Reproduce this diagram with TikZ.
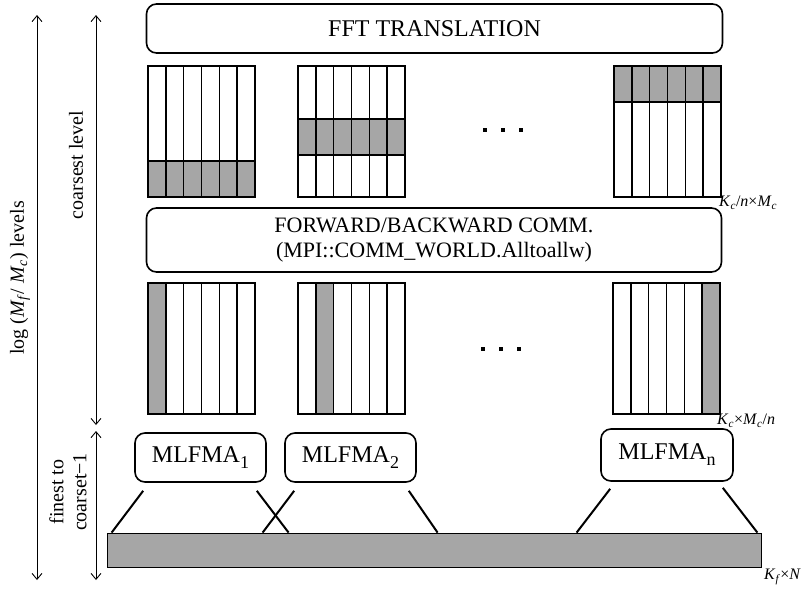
\documentclass[tikz,border=0pt]{standalone}
\usepackage{fontspec}
\setmainfont{Liberation Serif}
\usepackage{tikz}
\usetikzlibrary{arrows.meta,positioning,calc}
\definecolor{BandGray}{RGB}{166,166,166}
\newcommand{\idx}[1]{\textit{#1}}
\newcommand{\sub}[1]{\textsubscript{\textit{#1}}}
\newcommand{\rank}[1]{\raisebox{-6pt}{\fontsize{18}{18}\selectfont #1}}

\begin{document}
\begin{tikzpicture}[x=1pt, y=-1pt,
    stage/.style={draw, line width=1.6pt, rounded corners=10pt, inner sep=0pt, align=center, font=\fontsize{22}{25}\selectfont},
    solver/.style={stage, minimum width=131pt, minimum height=49pt, font=\fontsize{24}{26}\selectfont},
    cell/.style={draw, line width=1.5pt},
    span/.style={{Straight Barb[length=6pt,width=10pt]}-{Straight Barb[length=6pt,width=10pt]}, line width=0.9pt},
    side/.style={rotate=90, align=center, font=\fontsize{20}{23}\selectfont},
    dim/.style={anchor=west, inner sep=0pt, font=\fontsize{16}{18}\selectfont},
    leg/.style={line width=2pt}]
  \useasboundingbox (0,0) rectangle (809,590);

  % stages across all processes
  \node[stage, minimum width=576pt, minimum height=49pt, font=\fontsize{24}{26}\selectfont] (fft) at (434.5,28.5) {FFT TRANSLATION};
  \node[stage, minimum width=575pt, minimum height=64pt] (comm) at (434,240) {FORWARD/BACKWARD COMM.\\(MPI::COMM\_WORLD.Alltoallw)};

  % row-wise partition at the coarsest level
  \foreach \xo/\bt in {148/161, 298/119, 614/66} {
    \fill[BandGray] (\xo,\bt) rectangle ++(107,36);
    \foreach \i in {0,...,5}
      \draw[cell] (\xo+\i*17.833,66) rectangle ++(17.833,131);
    \draw[cell] (\xo,\bt) rectangle ++(107,36);
  }
  % column-wise partition
  \foreach \xo/\k in {148/0, 298/1, 613/5} {
    \fill[BandGray] (\xo+\k*17.833,283) rectangle ++(17.833,131);
    \foreach \i in {0,...,5}
      \draw[cell] (\xo+\i*17.833,283) rectangle ++(17.833,131);
  }
  \foreach \x in {485,503,521} {
    \fill (\x-2,128) rectangle ++(4,4);
    \fill (\x-4,347) rectangle ++(4,4);
  }
  \node[dim] (topdim) at (719,203) {\idx{K}\sub{c}/\idx{n}×\idx{M}\sub{c}};
  \node[dim] (botdim) at (717,421) {\idx{K}\sub{c}×\idx{M}\sub{c}/\idx{n}};

  % local solvers on the finest levels
  \node[solver] (mlfma1) at (200.5,457.5) {MLFMA\rank{1}};
  \node[solver] (mlfma2) at (350.5,457.5) {MLFMA\rank{2}};
  \node[solver, minimum width=132pt, minimum height=52pt] (mlfman) at (667,455) {MLFMA\rank{n}};
  \node[draw, fill=BandGray, line width=0.8pt, minimum width=654pt, minimum height=34pt, inner sep=0pt] (bar) at (434,550) {};
  \node[dim] (bardim) at (764,577) {\idx{K}\sub{f}×\idx{N}};

  \draw[leg] ($(mlfma1.south west)+(9,8)$) -- ($(bar.north west)+(5,0)$);
  \draw[leg] ($(mlfma1.south east)+(-10,8)$) -- ($(bar.north west)+(182,0)$);
  \draw[leg] ($(mlfma2.south west)+(10,8)$) -- ($(bar.north west)+(156,0)$);
  \draw[leg] ($(mlfma2.south east)+(-8,8)$) -- ($(bar.north west)+(331,0)$);
  \draw[leg] ($(mlfman.south west)+(10,7)$) -- ($(bar.north west)+(470,0)$);
  \draw[leg] ($(mlfman.south east)+(-11,6)$) -- ($(bar.north east)+(-4,0)$);

  % level ranges
  \coordinate (alltop) at (37,15);
  \coordinate (allbot) at (37,580);
  \coordinate (coarsetop) at (96,15);
  \coordinate (coarsebot) at (96,425);
  \coordinate (finetop) at (96,431);
  \coordinate (finebot) at (96,580);
  \draw[span] (alltop) -- (allbot);
  \draw[span] (coarsetop) -- (coarsebot);
  \draw[span] (finetop) -- (finebot);
  \node[side] (levels) at (20,278) {log (\idx{M}\sub{f}/ \idx{M}\sub{c}) levels};
  \node[side] (coarsest) at (76,165) {coarsest level};
  \node[side] (finest) at (68,492) {finest to\\coarset−1};
\end{tikzpicture}
\end{document}
